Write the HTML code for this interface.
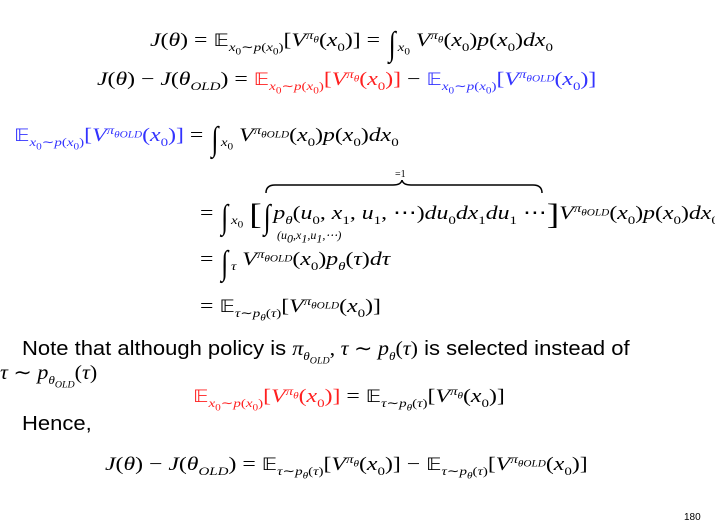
<!DOCTYPE html>
<html><head><meta charset="utf-8"><style>
body{margin:0;width:715px;height:529px;background:#fff;overflow:hidden;position:relative;font-family:"Liberation Serif",serif;color:#000}
.l{position:absolute;white-space:nowrap;font-size:19px;line-height:22px;transform:scaleX(1.25);transform-origin:0 50%}
i{font-style:italic}
sub,sup{font-size:12px;line-height:0}
sub sub,sup sub{font-size:9px}
.int{font-size:34px;vertical-align:-9px;font-style:normal;display:inline-block;transform:scaleX(.6)}
.r{color:#ff2020}.b{color:#3333ff}
.bb{font-family:"DejaVu Sans",sans-serif;font-size:17px}
.t{position:absolute;font-family:"Liberation Sans","DejaVu Sans",sans-serif;font-size:20px;white-space:nowrap;transform:scaleX(1.1);transform-origin:0 50%}
</style></head><body>
<div class="l" style="left:150px;top:30px"><i>J</i>(<i>θ</i>) = <span class="bb">𝔼</span><sub><i>x</i><sub>0</sub>∼<i>p</i>(<i>x</i><sub>0</sub>)</sub>[<i>V</i><sup><i>π</i><sub><i>θ</i></sub></sup>(<i>x</i><sub>0</sub>)] = <span class="int">∫</span><sub><i>x</i><sub>0</sub></sub> <i>V</i><sup><i>π</i><sub><i>θ</i></sub></sup>(<i>x</i><sub>0</sub>)<i>p</i>(<i>x</i><sub>0</sub>)<i>dx</i><sub>0</sub></div>
<div class="l" style="left:97px;top:69px"><i>J</i>(<i>θ</i>) − <i>J</i>(<i>θ</i><sub><i>OLD</i></sub>) = <span class="r"><span class="bb">𝔼</span><sub><i>x</i><sub>0</sub>∼<i>p</i>(<i>x</i><sub>0</sub>)</sub>[<i>V</i><sup><i>π</i><sub><i>θ</i></sub></sup>(<i>x</i><sub>0</sub>)]</span> − <span class="b"><span class="bb">𝔼</span><sub><i>x</i><sub>0</sub>∼<i>p</i>(<i>x</i><sub>0</sub>)</sub>[<i>V</i><sup><i>π</i><sub><i>θOLD</i></sub></sup>(<i>x</i><sub>0</sub>)]</span></div>
<div class="l" style="left:14px;top:125px"><span class="b"><span class="bb">𝔼</span><sub><i>x</i><sub>0</sub>∼<i>p</i>(<i>x</i><sub>0</sub>)</sub>[<i>V</i><sup><i>π</i><sub><i>θOLD</i></sub></sup>(<i>x</i><sub>0</sub>)]</span> = <span class="int">∫</span><sub><i>x</i><sub>0</sub></sub> <i>V</i><sup><i>π</i><sub><i>θOLD</i></sub></sup>(<i>x</i><sub>0</sub>)<i>p</i>(<i>x</i><sub>0</sub>)<i>dx</i><sub>0</sub></div>
<div style="position:absolute;left:395px;top:169px;font-size:10px">=1</div>
<svg style="position:absolute;left:265px;top:180px" width="280" height="14"><path d="M1 13 Q1 5 10 5 L128 5 Q136 5 137 0 Q138 5 146 5 L268 5 Q277 5 277 13" fill="none" stroke="#000" stroke-width="1.5"/></svg>
<div class="l" style="left:200px;top:203px">= <span class="int">∫</span><sub><i>x</i><sub>0</sub></sub> <span style="font-size:30px;vertical-align:-5px">[</span><span class="int">∫</span><i>p</i><sub><i>θ</i></sub>(<i>u</i><sub>0</sub>, <i>x</i><sub>1</sub>, <i>u</i><sub>1</sub>, ⋯)<i>du</i><sub>0</sub><i>dx</i><sub>1</sub><i>du</i><sub>1</sub> ⋯<span style="font-size:30px;vertical-align:-5px">]</span><i>V</i><sup><i>π</i><sub><i>θOLD</i></sub></sup>(<i>x</i><sub>0</sub>)<i>p</i>(<i>x</i><sub>0</sub>)<i>dx</i><sub>0</sub></div>
<div style="position:absolute;left:277px;top:228px;font-size:12px;white-space:nowrap"><i>(u<sub>0</sub>,x<sub>1</sub>,u<sub>1</sub>,⋯)</i></div>
<div class="l" style="left:200px;top:249px">= <span class="int">∫</span><sub><i>τ</i></sub> <i>V</i><sup><i>π</i><sub><i>θOLD</i></sub></sup>(<i>x</i><sub>0</sub>)<i>p</i><sub><i>θ</i></sub>(<i>τ</i>)<i>dτ</i></div>
<div class="l" style="left:200px;top:296px">= <span class="bb">𝔼</span><sub><i>τ</i>∼<i>p</i><sub><i>θ</i></sub>(<i>τ</i>)</sub>[<i>V</i><sup><i>π</i><sub><i>θOLD</i></sub></sup>(<i>x</i><sub>0</sub>)]</div>
<div class="t" style="left:22px;top:336px">Note that although policy is <span style="font-family:'Liberation Serif',serif"><i>π</i><sub><i>θ<sub>OLD</sub></i></sub>, <i>τ</i> ∼ <i>p</i><sub><i>θ</i></sub>(<i>τ</i>)</span> is selected instead of</div>
<div class="t" style="left:0px;top:360px;font-family:'Liberation Serif',serif"><i>τ</i> ∼ <i>p</i><sub><i>θ<sub>OLD</sub></i></sub>(<i>τ</i>)</div>
<div class="l" style="left:193px;top:386px"><span class="r"><span class="bb">𝔼</span><sub><i>x</i><sub>0</sub>∼<i>p</i>(<i>x</i><sub>0</sub>)</sub>[<i>V</i><sup><i>π</i><sub><i>θ</i></sub></sup>(<i>x</i><sub>0</sub>)]</span> = <span class="bb">𝔼</span><sub><i>τ</i>∼<i>p</i><sub><i>θ</i></sub>(<i>τ</i>)</sub>[<i>V</i><sup><i>π</i><sub><i>θ</i></sub></sup>(<i>x</i><sub>0</sub>)]</div>
<div class="t" style="left:22px;top:413px">Hence,</div>
<div class="l" style="left:105px;top:454px"><i>J</i>(<i>θ</i>) − <i>J</i>(<i>θ</i><sub><i>OLD</i></sub>) = <span class="bb">𝔼</span><sub><i>τ</i>∼<i>p</i><sub><i>θ</i></sub>(<i>τ</i>)</sub>[<i>V</i><sup><i>π</i><sub><i>θ</i></sub></sup>(<i>x</i><sub>0</sub>)] − <span class="bb">𝔼</span><sub><i>τ</i>∼<i>p</i><sub><i>θ</i></sub>(<i>τ</i>)</sub>[<i>V</i><sup><i>π</i><sub><i>θOLD</i></sub></sup>(<i>x</i><sub>0</sub>)]</div>
<div style="position:absolute;left:684px;top:512px;font-size:10px;font-family:'Liberation Sans',sans-serif">180</div>
</body></html>
